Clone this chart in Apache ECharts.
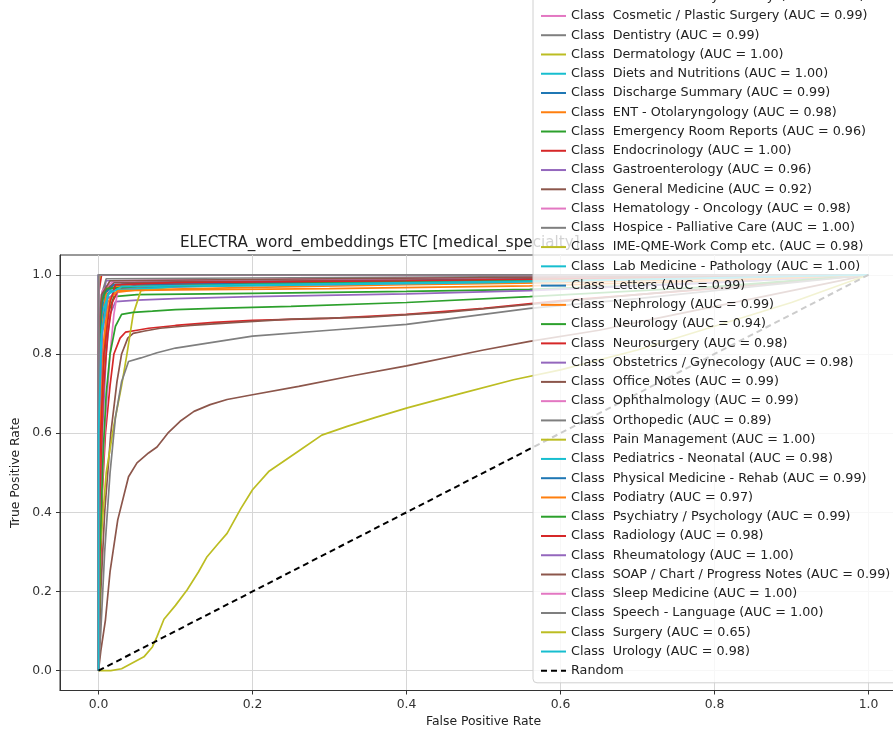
<!DOCTYPE html>
<html>
<head>
<meta charset="utf-8">
<script src="https://cdn.jsdelivr.net/npm/echarts@6/dist/echarts.min.js"></script>
<style>html,body{margin:0;padding:0;background:#fff;}#chart{width:893px;height:731px;}</style>
</head>
<body>
<div id="chart"></div>
<script>
// ---- Data ----
const classNames = [
  " Allergy / Immunology", " Autopsy", " Bariatrics", " Cardiovascular / Pulmonary", " Chiropractic",
  " Consult - History and Phy.", " Cosmetic / Plastic Surgery", " Dentistry", " Dermatology", " Diets and Nutritions",
  " Discharge Summary", " ENT - Otolaryngology", " Emergency Room Reports", " Endocrinology", " Gastroenterology",
  " General Medicine", " Hematology - Oncology", " Hospice - Palliative Care", " IME-QME-Work Comp etc.", " Lab Medicine - Pathology",
  " Letters", " Nephrology", " Neurology", " Neurosurgery", " Obstetrics / Gynecology",
  " Office Notes", " Ophthalmology", " Orthopedic", " Pain Management", " Pediatrics - Neonatal",
  " Physical Medicine - Rehab", " Podiatry", " Psychiatry / Psychology", " Radiology", " Rheumatology",
  " SOAP / Chart / Progress Notes", " Sleep Medicine", " Speech - Language", " Surgery", " Urology"
];
const aucValues = [
  "0.99", "1.00", "0.99", "0.93", "0.99",
  "0.79", "0.99", "0.99", "1.00", "1.00",
  "0.99", "0.98", "0.96", "1.00", "0.96",
  "0.92", "0.98", "1.00", "0.98", "1.00",
  "0.99", "0.99", "0.94", "0.98", "0.98",
  "0.99", "0.99", "0.89", "1.00", "0.98",
  "0.99", "0.97", "0.99", "0.98", "1.00",
  "0.99", "1.00", "1.00", "0.65", "0.98"
];
// ROC curves: [false positive rate, true positive rate]
const rocAllergy = [[0,0],[0,0.75],[0.004,0.9],[0.01,0.96],[0.03,0.975],[0.2,0.98],[0.5,0.99],[1,1]];
const rocAutopsy = [[0,0],[0,1],[1,1]];
const rocBariatrics = [[0,0],[0,0.85],[0.005,0.95],[0.02,0.97],[0.3,0.98],[0.6,0.99],[1,1]];
const rocCardio = [[0,0],[0.002,0.2],[0.005,0.45],[0.009,0.6],[0.015,0.72],[0.02,0.8],[0.028,0.84],[0.035,0.855],[0.05,0.86],[0.065,0.865],[0.1,0.872],[0.15,0.88],[0.2,0.885],[0.3,0.89],[0.4,0.9],[0.5,0.915],[0.6,0.935],[0.8,0.965],[1,1]];
const rocChiropractic = [[0,0],[0,0.9],[0.01,0.985],[0.4,0.99],[1,1]];
const rocConsult = [[0,0],[0.003,0.05],[0.009,0.128],[0.015,0.25],[0.025,0.381],[0.039,0.49],[0.05,0.525],[0.065,0.55],[0.076,0.565],[0.09,0.6],[0.106,0.63],[0.124,0.655],[0.145,0.672],[0.167,0.685],[0.2,0.697],[0.26,0.718],[0.33,0.745],[0.4,0.77],[0.5,0.81],[0.56,0.832],[0.65,0.86],[0.75,0.9],[0.85,0.94],[1,1]];
const rocCosmetic = [[0,0],[0,0.7],[0.006,0.9],[0.015,0.97],[0.05,0.98],[0.3,0.99],[1,1]];
const rocDentistry = [[0,0],[0,0.8],[0.004,0.95],[0.01,0.99],[0.5,0.995],[1,1]];
const rocDermatology = [[0,0],[0,0.97],[0.003,1],[1,1]];
const rocDiets = [[0,0],[0,1],[1,1]];
const rocDischarge = [[0,0],[0,0.6],[0.004,0.85],[0.01,0.95],[0.03,0.975],[0.2,0.98],[0.6,0.99],[1,1]];
const rocENT = [[0,0],[0,0.5],[0.005,0.8],[0.012,0.93],[0.02,0.955],[0.05,0.962],[0.2,0.968],[0.4,0.975],[0.6,0.98],[1,1]];
const rocEmergency = [[0,0],[0.001,0.4],[0.006,0.75],[0.012,0.9],[0.02,0.945],[0.05,0.95],[0.2,0.953],[0.4,0.958],[0.56,0.963],[0.8,0.98],[1,1]];
const rocEndocrinology = [[0,0],[0,0.95],[0.004,1],[1,1]];
const rocGastro = [[0,0],[0.001,0.3],[0.005,0.6],[0.01,0.8],[0.015,0.9],[0.022,0.932],[0.05,0.936],[0.1,0.94],[0.2,0.945],[0.4,0.952],[0.56,0.96],[0.8,0.98],[1,1]];
const rocGeneralMed = [[0,0],[0.003,0.2],[0.008,0.4],[0.016,0.6],[0.024,0.73],[0.03,0.8],[0.038,0.84],[0.045,0.852],[0.06,0.858],[0.08,0.865],[0.12,0.872],[0.18,0.88],[0.25,0.888],[0.35,0.893],[0.45,0.905],[0.56,0.925],[0.7,0.95],[0.85,0.975],[1,1]];
const rocHematology = [[0,0],[0.001,0.3],[0.008,0.6],[0.015,0.8],[0.02,0.9],[0.025,0.96],[0.05,0.97],[0.3,0.975],[0.6,0.985],[1,1]];
const rocHospice = [[0,0],[0,1],[1,1]];
const rocIME = [[0,0],[0.002,0.3],[0.01,0.5],[0.02,0.62],[0.03,0.72],[0.037,0.8],[0.045,0.9],[0.055,0.96],[0.1,0.97],[0.4,0.98],[1,1]];
const rocLabMed = [[0,0],[0,1],[1,1]];
const rocLetters = [[0,0],[0,0.9],[0.01,0.97],[0.05,0.98],[0.5,0.99],[1,1]];
const rocNephrology = [[0,0],[0,0.7],[0.005,0.9],[0.012,0.97],[0.1,0.975],[0.4,0.98],[1,1]];
const rocNeurology = [[0,0],[0.002,0.3],[0.006,0.55],[0.01,0.7],[0.015,0.8],[0.022,0.87],[0.03,0.9],[0.045,0.905],[0.07,0.908],[0.1,0.912],[0.15,0.915],[0.25,0.92],[0.4,0.93],[0.56,0.945],[0.8,0.97],[1,1]];
const rocNeurosurgery = [[0,0],[0.001,0.4],[0.006,0.7],[0.012,0.85],[0.018,0.93],[0.025,0.96],[0.05,0.975],[0.2,0.98],[0.5,0.985],[1,1]];
const rocObstetrics = [[0,0],[0,0.6],[0.005,0.85],[0.012,0.94],[0.03,0.965],[0.2,0.975],[0.6,0.985],[1,1]];
const rocOfficeNotes = [[0,0],[0,0.8],[0.005,0.95],[0.02,0.98],[0.5,0.99],[1,1]];
const rocOphthalmology = [[0,0],[0,0.85],[0.005,0.96],[0.02,0.985],[1,1]];
const rocOrthopedic = [[0,0],[0.003,0.1],[0.008,0.3],[0.015,0.5],[0.022,0.64],[0.03,0.73],[0.039,0.781],[0.055,0.79],[0.076,0.803],[0.1,0.815],[0.15,0.83],[0.2,0.845],[0.3,0.86],[0.4,0.875],[0.56,0.915],[0.7,0.94],[0.85,0.97],[1,1]];
const rocPain = [[0,0],[0,0.98],[0.002,1],[1,1]];
const rocPediatrics = [[0,0],[0,0.7],[0.004,0.9],[0.015,0.96],[0.1,0.97],[0.5,0.98],[1,1]];
const rocPhysMed = [[0,0],[0,0.8],[0.006,0.95],[0.02,0.975],[0.4,0.985],[1,1]];
const rocPodiatry = [[0,0],[0.001,0.5],[0.008,0.85],[0.015,0.94],[0.025,0.96],[0.1,0.962],[0.3,0.965],[0.56,0.972],[0.8,0.985],[1,1]];
const rocPsychiatry = [[0,0],[0,0.8],[0.004,0.93],[0.01,0.965],[0.05,0.97],[0.3,0.98],[1,1]];
const rocRadiology = [[0,0],[0.001,0.5],[0.007,0.8],[0.015,0.93],[0.022,0.975],[0.1,0.98],[0.4,0.985],[1,1]];
const rocRheumatology = [[0,0],[0,1],[1,1]];
const rocSOAP = [[0,0],[0,0.85],[0.004,0.95],[0.015,0.985],[0.3,0.99],[1,1]];
const rocSleep = [[0,0],[0,1],[1,1]];
const rocSpeech = [[0,0],[0,1],[1,1]];
const rocSurgery = [[0,0],[0.016,0],[0.03,0.005],[0.059,0.035],[0.07,0.06],[0.076,0.086],[0.085,0.13],[0.1,0.165],[0.115,0.204],[0.13,0.25],[0.141,0.288],[0.155,0.32],[0.167,0.347],[0.185,0.41],[0.2,0.457],[0.221,0.503],[0.26,0.555],[0.29,0.595],[0.323,0.617],[0.36,0.64],[0.401,0.664],[0.47,0.7],[0.539,0.735],[0.6,0.76],[0.7,0.81],[0.8,0.87],[0.9,0.93],[1,1]];
const rocUrology = [[0,0],[0,0.6],[0.004,0.85],[0.012,0.95],[0.03,0.97],[0.2,0.975],[0.6,0.985],[1,1]];
const randomLine = [[0,0],[1,1]];

const rocCurves = [
  rocAllergy, rocAutopsy, rocBariatrics, rocCardio, rocChiropractic,
  rocConsult, rocCosmetic, rocDentistry, rocDermatology, rocDiets,
  rocDischarge, rocENT, rocEmergency, rocEndocrinology, rocGastro,
  rocGeneralMed, rocHematology, rocHospice, rocIME, rocLabMed,
  rocLetters, rocNephrology, rocNeurology, rocNeurosurgery, rocObstetrics,
  rocOfficeNotes, rocOphthalmology, rocOrthopedic, rocPain, rocPediatrics,
  rocPhysMed, rocPodiatry, rocPsychiatry, rocRadiology, rocRheumatology,
  rocSOAP, rocSleep, rocSpeech, rocSurgery, rocUrology
];
const tickValues = [0, 0.2, 0.4, 0.6, 0.8, 1.0];
const palette = ['#1f77b4','#ff7f0e','#2ca02c','#d62728','#9467bd','#8c564b','#e377c2','#7f7f7f','#bcbd22','#17becf'];

// ---- Chart ----
const FONT = 'DejaVu Sans';
const chart = echarts.init(document.getElementById('chart'), null, {renderer: 'canvas'});

const series = rocCurves.map((d, i) => ({
  name: 'Class ' + classNames[i] + ' (AUC = ' + aucValues[i] + ')',
  type: 'line',
  data: d,
  symbol: 'none',
  showSymbol: false,
  lineStyle: {color: palette[i % 10], width: 1.7},
  itemStyle: {color: palette[i % 10]},
  animation: false,
  z: 2
}));
series.push({
  name: 'Random',
  type: 'line',
  data: randomLine,
  symbol: 'none',
  showSymbol: false,
  lineStyle: {color: '#000', width: 2, type: [6, 4]},
  itemStyle: {color: '#000'},
  animation: false,
  z: 2
});

const axisCommon = {
  type: 'value',
  min: -0.05,
  max: 1.05,
  axisLine: {show: true, onZero: false, lineStyle: {color: '#333', width: 1}},
  axisTick: {show: true, length: 4, customValues: tickValues, lineStyle: {color: '#333'}},
  axisLabel: {customValues: tickValues, fontSize: 12.4, color: '#333', fontFamily: FONT, margin: 8,
              formatter: v => v.toFixed(1)},
  splitLine: {show: true, lineStyle: {color: '#d6d6d6', width: 1}},
  nameLocation: 'middle',
  nameTextStyle: {fontSize: 12.4, color: '#222', fontFamily: FONT}
};

chart.setOption({
  animation: false,
  backgroundColor: '#fff',
  textStyle: {fontFamily: FONT},
  title: {
    text: 'ELECTRA_word_embeddings ETC [medical_specialty]',
    left: 180, top: 236, z: 1, padding: 0,
    textStyle: {fontSize: 15.2, fontWeight: 'normal', color: '#222', fontFamily: FONT}
  },
  grid: {
    left: 60, top: 255, width: 847, height: 435.5,
    show: true, borderColor: '#333', borderWidth: 1, backgroundColor: 'transparent',
    containLabel: false, outerBoundsMode: 'none'
  },
  xAxis: Object.assign({}, axisCommon, {name: 'False Positive Rate', nameGap: 23}),
  yAxis: Object.assign({}, axisCommon, {name: 'True Positive Rate', nameGap: 29}),
  legend: {
    orient: 'vertical',
    left: 533, top: -111.6,
    z: 10,
    padding: [5, 8, 5, 7],
    itemWidth: 25, itemHeight: 14, itemGap: 5.26,
    backgroundColor: 'rgba(255,255,255,0.8)',
    borderColor: '#d0d0d0', borderWidth: 1, borderRadius: 4,
    itemStyle: {opacity: 0, color: 'transparent', borderColor: 'transparent', borderWidth: 0},
    textStyle: {fontSize: 12.75, color: '#222', fontFamily: FONT, lineHeight: 14},
    selectedMode: false
  },
  series: series
});
</script>
</body>
</html>
